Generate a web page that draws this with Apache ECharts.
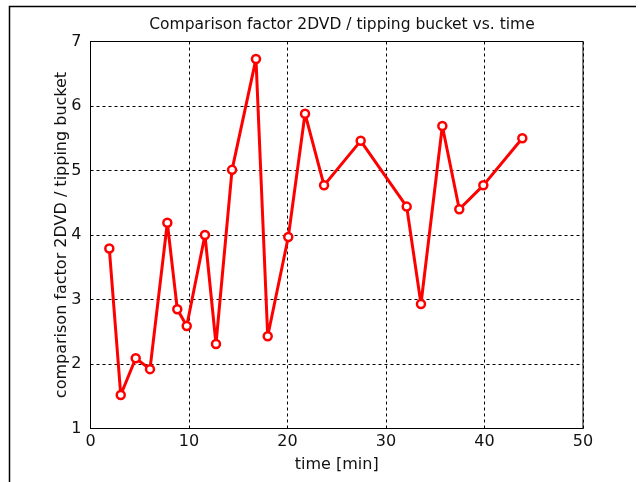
<!DOCTYPE html>
<html>
<head>
<meta charset="utf-8">
<script src="https://cdn.jsdelivr.net/npm/echarts@6/dist/echarts.min.js"></script>
<style>html,body{margin:0;padding:0;background:#fff;}#c{width:641px;height:482px;}</style>
</head>
<body>
<div id="c"></div>
<script>
const timeMin = [1.91, 3.07, 4.59, 6.04, 7.80, 8.81, 9.77, 11.62, 12.74, 14.37, 16.80, 17.99, 20.08, 21.78, 23.71, 27.43, 32.10, 33.55, 35.72, 37.44, 39.88, 43.84];
const factor = [3.79, 1.52, 2.09, 1.92, 4.19, 2.85, 2.59, 4.00, 2.31, 5.01, 6.73, 2.43, 3.97, 5.88, 4.77, 5.46, 4.44, 2.93, 5.69, 4.40, 4.77, 5.50];
const titleText = 'Comparison factor 2DVD / tipping bucket vs. time';
const xName = 'time [min]';
const yName = 'comparison factor 2DVD / tipping bucket';

const chart = echarts.init(document.getElementById('c'), null, {renderer: 'canvas'});
const font = 'DejaVu Sans, sans-serif';
chart.setOption({
  animation: false,
  backgroundColor: '#fff',
  title: {
    text: titleText, left: 337, top: 12, textAlign: 'center',
    textStyle: {fontFamily: font, fontSize: 15.5, fontWeight: 'normal', color: '#111'}
  },
  graphic: [{
    type: 'polyline', silent: true,
    shape: {points: [[9.5, 482], [9.5, 6.5], [636, 6.5]]},
    style: {stroke: '#000', lineWidth: 1.5, fill: null}
  }],
  grid: {left: 90.5, right: 58, top: 41.5, bottom: 53.5, show: true, borderColor: '#000', borderWidth: 1, backgroundColor: '#fff'},
  xAxis: {
    type: 'value', min: 0, max: 50, interval: 10,
    name: xName, nameLocation: 'middle', nameGap: 28.5, nameMoveOverlap: false,
    nameTextStyle: {fontFamily: font, fontSize: 16, color: '#111'},
    axisLine: {show: true, lineStyle: {color: '#000'}},
    axisTick: {show: false},
    axisLabel: {fontFamily: font, fontSize: 16, color: '#111', margin: 5},
    splitLine: {show: true, lineStyle: {color: '#000', type: [3, 3], width: 1}}
  },
  yAxis: {
    type: 'value', min: 1, max: 7, interval: 1,
    name: yName, nameLocation: 'middle', nameGap: 21, nameMoveOverlap: false,
    nameTextStyle: {fontFamily: font, fontSize: 16, color: '#111'},
    axisLine: {show: true, lineStyle: {color: '#000'}},
    axisTick: {show: false},
    axisLabel: {fontFamily: font, fontSize: 16, color: '#111', margin: 9},
    splitLine: {show: true, lineStyle: {color: '#000', type: [3, 3], width: 1}}
  },
  series: [{
    type: 'line',
    data: timeMin.map((t, i) => [t, factor[i]]),
    symbol: 'circle', symbolSize: 8, showAllSymbol: true,
    lineStyle: {color: '#ff0000', width: 3},
    itemStyle: {color: '#fff', borderColor: '#ff0000', borderWidth: 2.5}
  }]
});
</script>
</body>
</html>
